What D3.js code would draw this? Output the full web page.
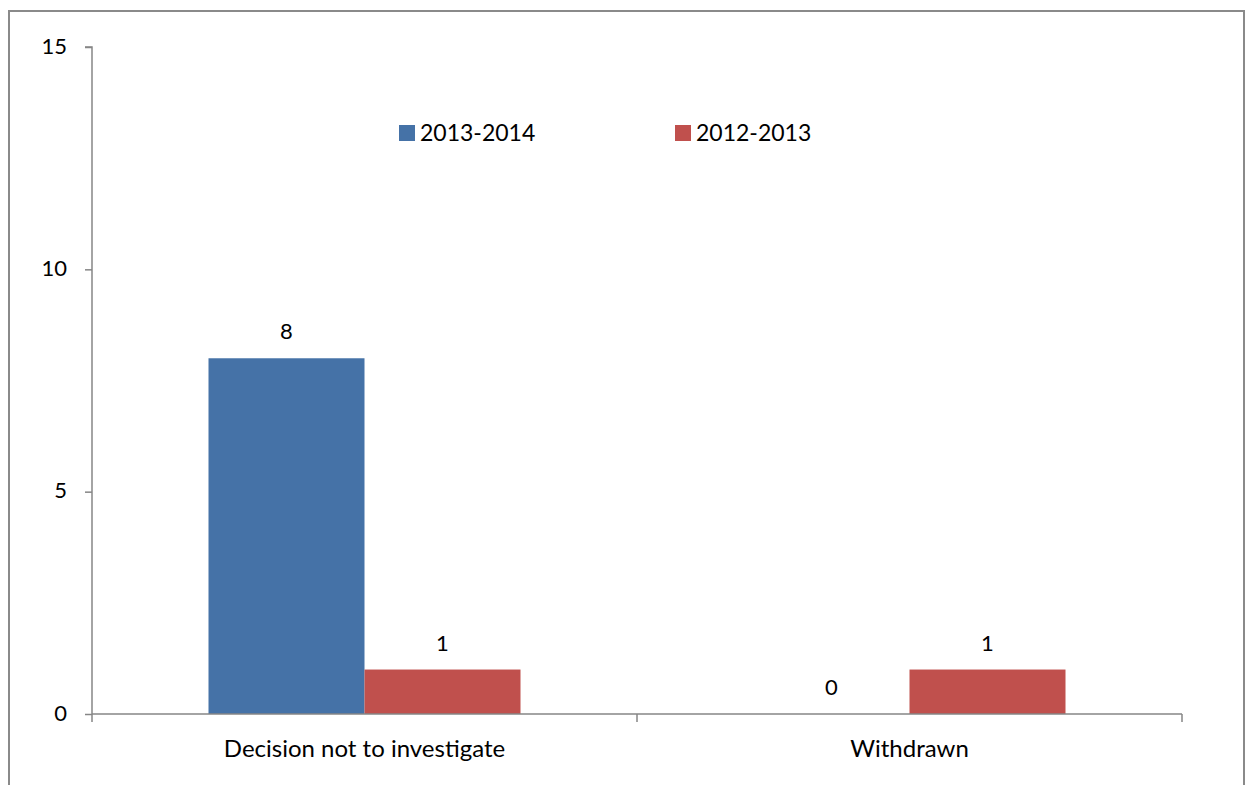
<!DOCTYPE html>
<html><head><meta charset="utf-8">
<script src="https://cdn.jsdelivr.net/npm/d3@7"></script>
<style>html,body{margin:0;padding:0;background:#fff;overflow:hidden}</style>
</head><body><svg id="c" width="1246" height="785"></svg>
<script>
const categories = ["Decision not to investigate", "Withdrawn"];
const seriesNames = ["2013-2014", "2012-2013"];
const series2013_2014 = [8, 0];
const series2012_2013 = [1, 1];
const yTicks = [0, 5, 10, 15];
const colors = ["#4572A7", "#C0504D"];

const svg = d3.select("#c");
const font = "Lato, 'Open Sans', sans-serif";
// outer frame
svg.append("rect").attr("x", 9).attr("y", 11).attr("width", 1235).attr("height", 800)
  .attr("fill", "none").attr("stroke", "#8a8a8a").attr("stroke-width", 2);

const x0 = 92, x1 = 1182, yTop = 47, yBot = 714;
const x = d3.scaleBand().domain(categories).range([x0, x1]);
const y = d3.scaleLinear().domain([0, 15]).range([yBot, yTop]);
const barW = 156;
const xs = d3.scaleBand().domain(seriesNames).range([0, barW * 2]);
const data = [series2013_2014, series2012_2013];

// y axis
const gy = svg.append("g").attr("transform", `translate(${x0},0)`)
  .call(d3.axisLeft(y).tickValues(yTicks).tickSize(7).tickPadding(18));
gy.select(".domain").attr("stroke", "#868686").attr("stroke-width", 1.5).attr("d", `M-7,${yTop}H0V${yBot}`);
gy.selectAll(".tick line").attr("stroke", "#868686").attr("stroke-width", 1.5);
gy.selectAll(".tick text").attr("font-family", font).attr("font-size", 22).attr("fill", "#000")
  .attr("dy", "0.28em");

// bars
categories.forEach((c, i) => {
  const cx = x(c) + x.bandwidth() / 2 - barW;
  seriesNames.forEach((s, j) => {
    const v = data[j][i];
    const bx = cx + xs(s);
    svg.append("rect").attr("x", bx).attr("y", y(v)).attr("width", xs.bandwidth())
      .attr("height", yBot - y(v)).attr("fill", colors[j]);
    svg.append("text").attr("x", bx + xs.bandwidth() / 2).attr("y", y(v) - 19)
      .attr("text-anchor", "middle").attr("font-family", font).attr("font-size", 22)
      .attr("fill", "#000").text(v);
  });
});

// x axis
const gx = svg.append("g").attr("transform", `translate(0,${yBot})`);
gx.append("path").attr("d", `M${x0},0H${x1}`).attr("stroke", "#868686").attr("stroke-width", 1.5).attr("fill", "none");
const bounds = [x0, ...categories.map(c => x(c) + x.bandwidth())];
gx.selectAll("line.t").data(bounds).join("line").attr("x1", d => d).attr("x2", d => d)
  .attr("y1", 0).attr("y2", 8).attr("stroke", "#868686").attr("stroke-width", 1.5);
gx.selectAll("text").data(categories).join("text")
  .attr("x", d => x(d) + x.bandwidth() / 2).attr("y", 43)
  .attr("text-anchor", "middle").attr("font-family", font).attr("font-size", 24).attr("fill", "#000")
  .text(d => d);

// legend
const legX = [399, 675];
seriesNames.forEach((s, j) => {
  svg.append("rect").attr("x", legX[j]).attr("y", 125).attr("width", 16).attr("height", 16).attr("fill", colors[j]);
  svg.append("text").attr("x", legX[j] + 21).attr("y", 141).attr("font-family", font)
    .attr("font-size", 23).attr("fill", "#000").text(s);
});
</script></body></html>
